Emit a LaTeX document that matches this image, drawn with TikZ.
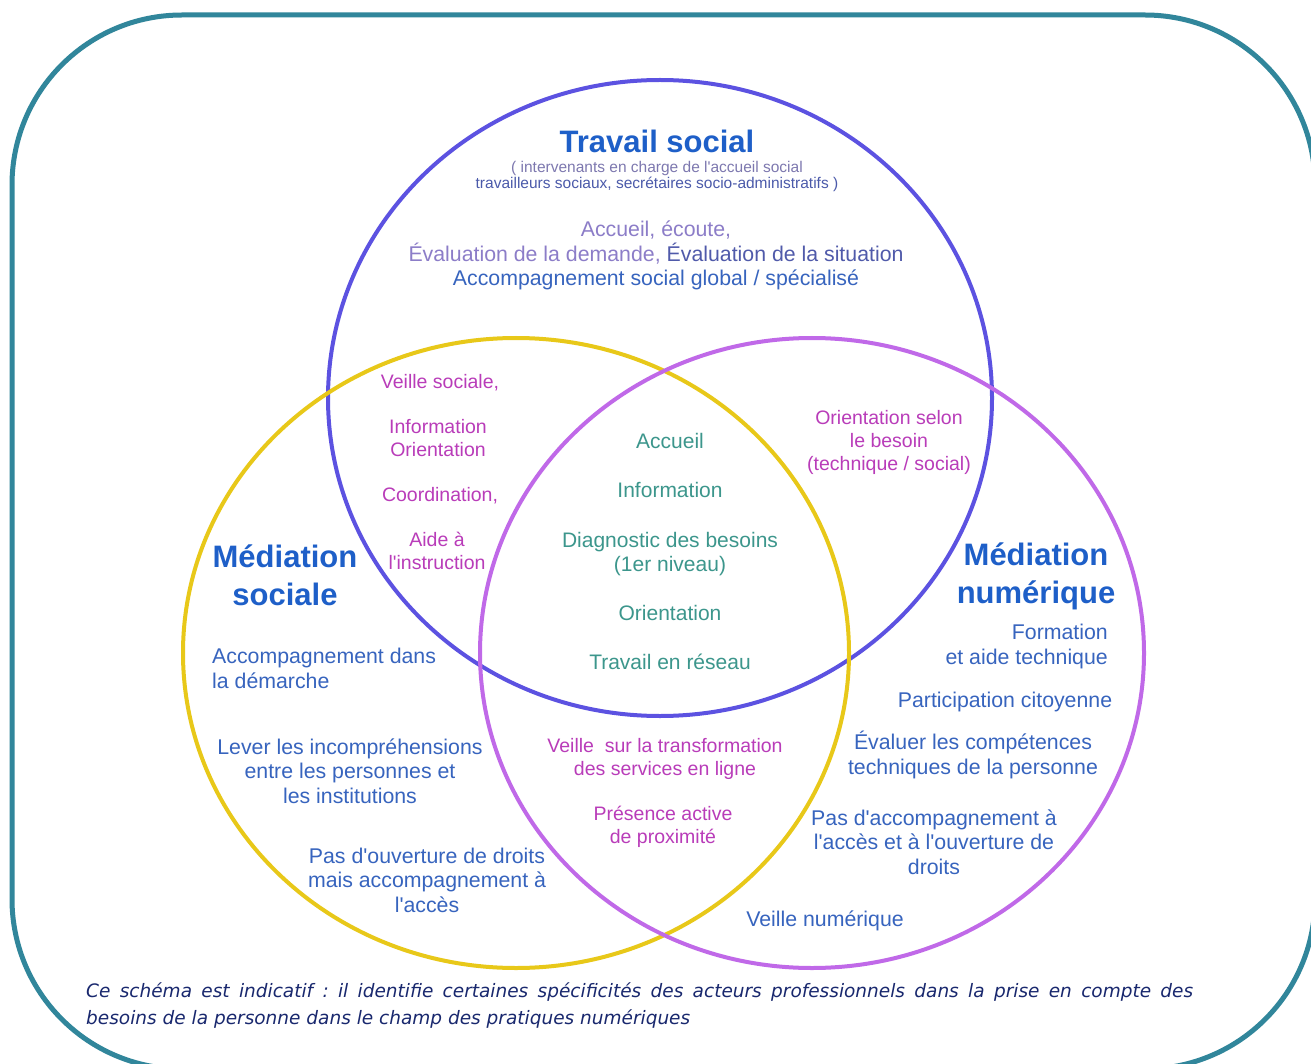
\documentclass[tikz,border=0pt]{standalone}
\usepackage{fontspec}
\setmainfont{Liberation Sans}[Ligatures=TeXOff]
\newfontfamily\capfont{DejaVu Sans}
\frenchspacing
\definecolor{frameteal}{RGB}{49,134,155}
\definecolor{cblue}{RGB}{92,82,225}
\definecolor{cyellow}{RGB}{232,200,25}
\definecolor{cpurple}{RGB}{192,105,232}
\definecolor{headblue}{RGB}{30,95,200}
\definecolor{subgrayA}{RGB}{125,120,175}
\definecolor{subgrayB}{RGB}{75,90,170}
\definecolor{lavender}{RGB}{140,125,200}
\definecolor{slateblue}{RGB}{80,90,170}
\definecolor{bodyblue}{RGB}{55,100,190}
\definecolor{magtext}{RGB}{185,60,185}
\definecolor{tealtext}{RGB}{60,150,140}
\definecolor{capnavy}{RGB}{25,40,110}
\begin{document}
\begin{tikzpicture}[x=1pt,y=-1pt,
  txt/.style={inner sep=0pt, align=center, anchor=base},
  heading/.style={txt, font=\bfseries\fontsize{31}{38}\selectfont, text=headblue},
  subtxt/.style={txt, font=\fontsize{15.5}{16.5}\selectfont},
  bodytxt/.style={txt, font=\fontsize{21.3}{24.5}\selectfont, text=bodyblue},
  intertxt/.style={txt, font=\fontsize{19.5}{22.7}\selectfont, text=magtext},
  coretxt/.style={txt, font=\fontsize{21}{24}\selectfont, text=tealtext},
  captxt/.style={inner sep=0pt, anchor=base west, text=capnavy, font=\capfont\itshape\fontsize{18.5}{27}\selectfont},
  ring/.style={line width=4pt}
]
\useasboundingbox (0,0) rectangle (1311,1064);
\clip (0,0) rectangle (1311,1064);
\fill[white] (0,0) rectangle (1311,1064);
\draw[frameteal, line width=5pt, rounded corners=170pt] (12,15) rectangle (1315,1069);

% circles
\draw[ring, cblue] (660,398) ellipse [x radius=332pt, y radius=318pt];
\draw[ring, cyellow] (516,653) ellipse [x radius=333pt, y radius=315pt];
\draw[ring, cpurple] (812,653) ellipse [x radius=332pt, y radius=315pt];

% Travail social (multi-line nodes: base = baseline of last line)
\node[heading] (ts) at (657,153) {Travail social};
\node[subtxt] (tssub) at (657,189) {\textcolor{subgrayA}{( intervenants en charge de l'accueil social}\\\textcolor{subgrayB}{travailleurs sociaux, secrétaires socio-administratifs )}};
\node[txt, font=\fontsize{21.3}{24.8}\selectfont] (tsbody) at (656,286) {\textcolor{lavender}{Accueil, écoute,}\\\textcolor{lavender}{Évaluation de la demande,} \textcolor{slateblue}{Évaluation de la situation}\\\textcolor{bodyblue}{Accompagnement social global / spécialisé}};

% Travail social and Médiation sociale
\node[intertxt] (ls1) at (440,388) {Veille sociale,};
\node[intertxt] (ls2) at (438,456) {Information\\Orientation};
\node[intertxt] (ls3) at (440,501) {Coordination,};
\node[intertxt] (ls4) at (437,569) {Aide à\\l'instruction};

% core
\node[coretxt] (c1) at (670,448) {Accueil};
\node[coretxt] (c2) at (670,497) {Information};
\node[coretxt] (c3) at (670,571) {Diagnostic des besoins\\(1er niveau)};
\node[coretxt] (c4) at (670,620) {Orientation};
\node[coretxt] (c5) at (670,669) {Travail en réseau};

% Travail social and Médiation numérique
\node[intertxt] (rs1) at (889,470) {Orientation selon\\le besoin\\(technique / social)};

% Médiation sociale
\node[heading] (ms) at (285,605) {Médiation\\sociale};
\node[bodytxt, anchor=base west, align=left] (ms1) at (212,688) {Accompagnement dans\\la démarche};
\node[bodytxt] (ms2) at (350,803) {Lever les incompréhensions\\entre les personnes et\\les institutions};
\node[bodytxt] (ms3) at (427,912) {Pas d'ouverture de droits\\mais accompagnement à\\l'accès};

% Médiation sociale and Médiation numérique
\node[intertxt] (lo1) at (665,775) {Veille\ \ sur la transformation\\des services en ligne};
\node[intertxt] (lo2) at (663,843) {Présence active\\de proximité};

% Médiation numérique
\node[heading] (mn) at (1036,603) {Médiation\\numérique};
\node[bodytxt, anchor=base east, align=right] (mn1) at (1108,664) {Formation\\et aide technique};
\node[bodytxt] (mn2) at (1005,707) {Participation citoyenne};
\node[bodytxt] (mn3) at (973,774) {Évaluer les compétences\\techniques de la personne};
\node[bodytxt] (mn4) at (934,874) {Pas d'accompagnement à\\l'accès et à l'ouverture de\\droits};
\node[bodytxt] (mn5) at (825,926) {Veille numérique};

% caption
\node[captxt] (cap1) at (86,997) {\makebox[1107pt][s]{Ce schéma est indicatif : il identifie certaines spécificités des acteurs professionnels dans la prise en compte des}};
\node[captxt] (cap2) at (86,1024) {besoins de la personne dans le champ des pratiques numériques};
\end{tikzpicture}
\end{document}
